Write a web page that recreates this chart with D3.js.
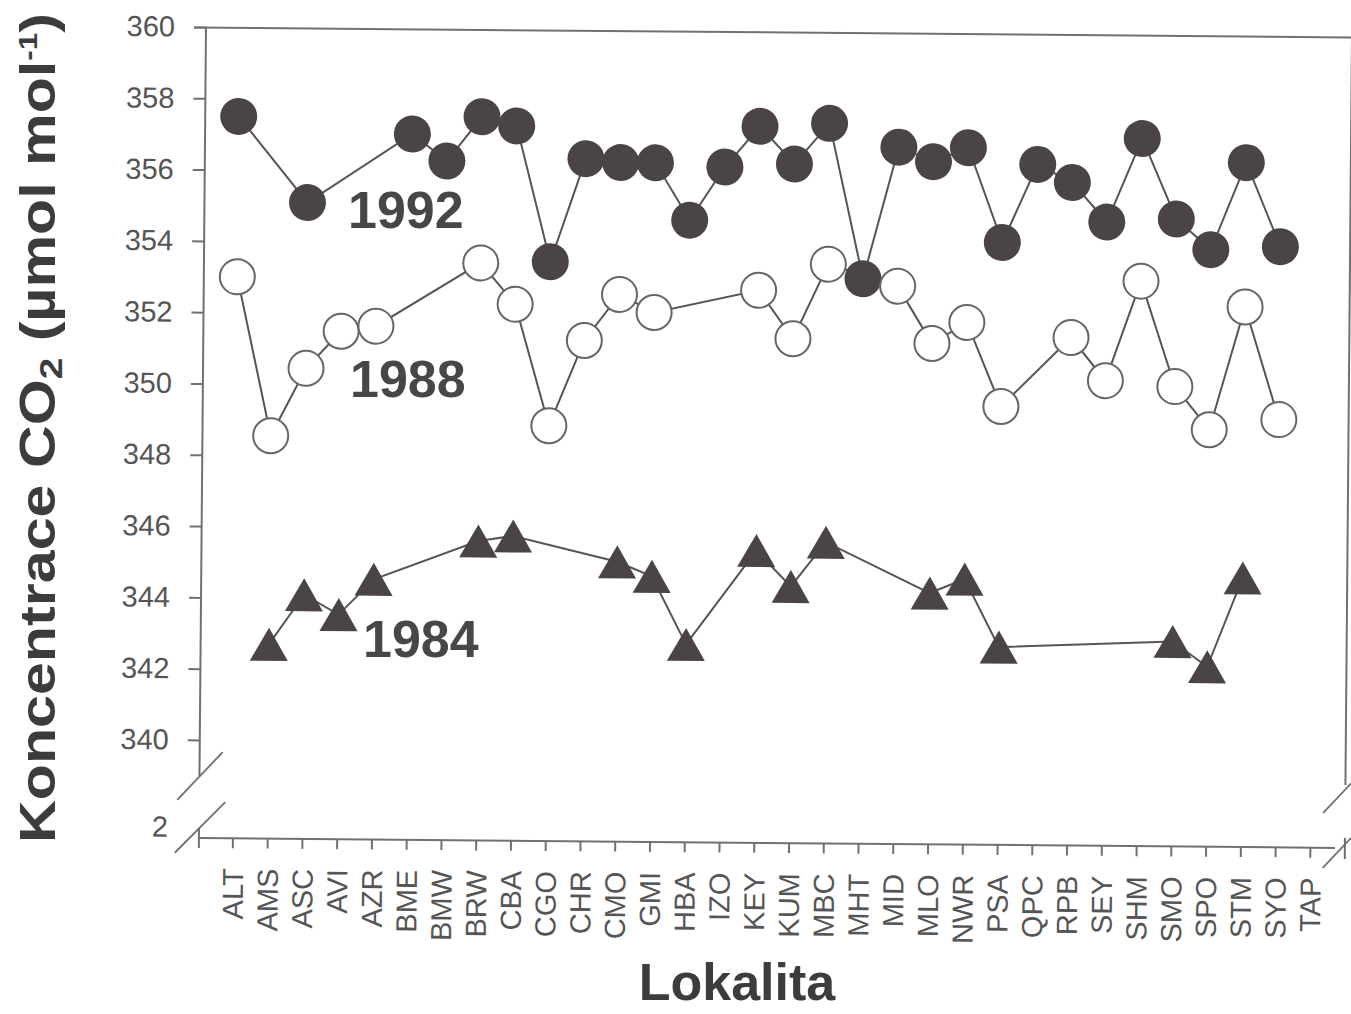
<!DOCTYPE html>
<html>
<head>
<meta charset="utf-8">
<script src="https://cdn.jsdelivr.net/npm/d3@7"></script>
<style>
  body { margin: 0; background: #fff; }
  svg { display: block; font-family: 'Liberation Sans', Arial, sans-serif; }
</style>
</head>
<body>
<svg id="chart" width="1351" height="1014"></svg>
<script>
const sites = ['ALT', 'AMS', 'ASC', 'AVI', 'AZR', 'BME', 'BMW', 'BRW', 'CBA', 'CGO', 'CHR', 'CMO', 'GMI', 'HBA', 'IZO', 'KEY',
  'KUM', 'MBC', 'MHT', 'MID', 'MLO', 'NWR', 'PSA', 'QPC', 'RPB', 'SEY', 'SHM', 'SMO', 'SPO', 'STM', 'SYO', 'TAP']

// CO2 by site, null = no value that year
const co2_1992 = [357.5, null, 355.1, null, null, 357.05, 356.3, 357.55, 357.3, 353.5, 356.4, 356.3, 356.3, 354.7, 356.2, 357.35,
  356.3, 357.45, 353.1, 356.8, 356.4, 356.8, 354.15, 356.35, 355.85, 354.75, 357.1, 354.85, 354.0, 356.45, 354.1, null]
const co2_1988 = [353.0, 348.55, 350.45, 351.5, 351.65, null, null, 353.45, 352.3, 348.9, 351.3, 352.6, 352.1, null, null, 352.75,
  351.4, 353.5, null, 352.9, 351.3, 351.9, 349.55, null, 351.5, 350.3, 353.1, 350.15, 348.95, 352.4, 349.25, null]
const co2_1984 = [null, 342.7, 344.1, 343.55, 344.55, null, null, 345.65, 345.8, null, null, 345.1, 344.7, 342.8, null, 345.45,
  344.45, 345.7, null, null, 344.3, 344.7, 342.8, null, null, null, null, 343.0, 342.3, 344.8, null, null]

const yTicks = [340, 342, 344, 346, 348, 350, 352, 354, 356, 358, 360]

const axisColor = '#707070'
const markColor = '#4a4347'
const lineColor = '#555'

const svg = d3.select('#chart')

// scanned page is turned a little, so the plot frame is too
const g = svg.append('g').attr('transform', 'translate(206,27) rotate(0.5)')

const x = d3.scalePoint().domain(sites).range([33.5, 1111])
const y = d3.scaleLinear().domain([340, 360]).range([713, 0])
const axisY = 811

// frame lines
const frame = g.append('g').attr('stroke', axisColor).attr('stroke-width', 2).attr('fill', 'none')
frame.append('line').attr('x1', -12).attr('y1', 0.5).attr('x2', 1146).attr('y2', 0.5)
frame.append('line').attr('x1', 0).attr('y1', 0).attr('x2', 0).attr('y2', 749)
frame.append('line').attr('x1', 0).attr('y1', 801).attr('x2', 0).attr('y2', axisY)
frame.append('line').attr('x1', 1146).attr('y1', 0).attr('x2', 1146).attr('y2', 748)
frame.append('line').attr('x1', 1146).attr('y1', 801).attr('x2', 1146).attr('y2', 822)
frame.append('line').attr('x1', -1).attr('y1', axisY).attr('x2', 1136).attr('y2', axisY)
frame.append('line').attr('x1', 0).attr('y1', axisY).attr('x2', 0).attr('y2', axisY + 10)

// axis breaks
const breaks = [
  [-22, 773, 23, 725], [-24, 826, 26, 775],
  [1124, 776, 1152, 746], [1124, 831, 1152, 801]
]
frame.selectAll('line.brk').data(breaks).enter().append('line')
  .attr('class', 'brk')
  .attr('x1', (d) => d[0]).attr('y1', (d) => d[1])
  .attr('x2', (d) => d[2]).attr('y2', (d) => d[3])
  .attr('stroke-width', 1.8)

// y axis
const yAxis = g.append('g')
  .call(d3.axisLeft(y).tickValues(yTicks).tickSize(12).tickPadding(19).tickFormat(d3.format('d')))
yAxis.select('.domain').remove()
yAxis.selectAll('line').attr('stroke', axisColor).attr('stroke-width', 2)
yAxis.selectAll('text')
  .attr('font-size', 29).attr('fill', '#555').attr('font-family', "'Liberation Sans', Arial, sans-serif")

g.append('text')
  .attr('x', -31).attr('y', 810)
  .attr('text-anchor', 'end')
  .attr('font-size', 29).attr('fill', '#555')
  .text('2')

// x axis
const xAxis = g.append('g')
  .attr('transform', `translate(0,${axisY})`)
  .call(d3.axisBottom(x).tickSize(10))
xAxis.select('.domain').remove()
xAxis.selectAll('line').attr('stroke', axisColor).attr('stroke-width', 2)
xAxis.selectAll('text')
  .attr('transform', 'rotate(-90)')
  .attr('x', -30).attr('y', 0).attr('dy', '0.36em')
  .attr('text-anchor', 'end')
  .attr('font-size', 29).attr('fill', '#555')
  .attr('font-family', "'Liberation Sans', Arial, sans-serif")

// series
const series = [
  { name: '1992', values: co2_1992, shape: 'filled' },
  { name: '1988', values: co2_1988, shape: 'open' },
  { name: '1984', values: co2_1984, shape: 'triangle' }
]
series.forEach((s) => {
  s.points = sites.map((site, i) => ({ site, v: s.values[i] })).filter((d) => d.v != null)
})

const line = d3.line().x((d) => x(d.site)).y((d) => y(d.v))

g.append('g').selectAll('path').data(series).enter().append('path')
  .attr('d', (s) => line(s.points))
  .attr('fill', 'none')
  .attr('stroke', lineColor)
  .attr('stroke-width', 2)

const triW = 38
const triH = 33
const triPath = `M0,${-triH / 2}L${triW / 2},${triH / 2}L${-triW / 2},${triH / 2}Z`

series.forEach((s) => {
  const grp = g.append('g')
  if (s.shape === 'triangle') {
    grp.selectAll('path').data(s.points).enter().append('path')
      .attr('d', triPath)
      .attr('transform', (d) => `translate(${x(d.site)},${y(d.v)})`)
      .attr('fill', markColor)
  } else {
    grp.selectAll('circle').data(s.points).enter().append('circle')
      .attr('cx', (d) => x(d.site))
      .attr('cy', (d) => y(d.v))
      .attr('r', s.shape === 'filled' ? 18.5 : 17.5)
      .attr('fill', s.shape === 'filled' ? markColor : '#fff')
      .attr('stroke', s.shape === 'filled' ? 'none' : '#666')
      .attr('stroke-width', 2)
  }
})

// year labels
const yearLabels = [
  { text: '1992', x: 348, y: 228 },
  { text: '1988', x: 350, y: 397 },
  { text: '1984', x: 363, y: 657 }
]
svg.append('g').selectAll('text').data(yearLabels).enter().append('text')
  .attr('x', (d) => d.x).attr('y', (d) => d.y)
  .attr('font-size', 52).attr('font-weight', 'bold').attr('fill', '#474747')
  .text((d) => d.text)

// axis titles
svg.append('text')
  .attr('x', 737).attr('y', 1000)
  .attr('text-anchor', 'middle')
  .attr('font-size', 52).attr('font-weight', 'bold').attr('fill', '#3c3c3c')
  .text('Lokalita')

const yTitle = svg.append('text')
  .attr('font-size', 49).attr('font-weight', 'bold').attr('fill', '#3c3c3c')
yTitle.append('tspan').text('Koncentrace CO')
yTitle.append('tspan').attr('font-size', 32).attr('baseline-shift', '-22%').text('2')
yTitle.append('tspan').text(' (µmol mol')
yTitle.append('tspan').attr('font-size', 26).attr('baseline-shift', '70%').text('-1')
yTitle.append('tspan').text(')')
const natural = yTitle.node().getComputedTextLength()
yTitle.attr('transform', `translate(55,843) rotate(-90) scale(${830 / natural},1)`)
</script>
</body>
</html>
